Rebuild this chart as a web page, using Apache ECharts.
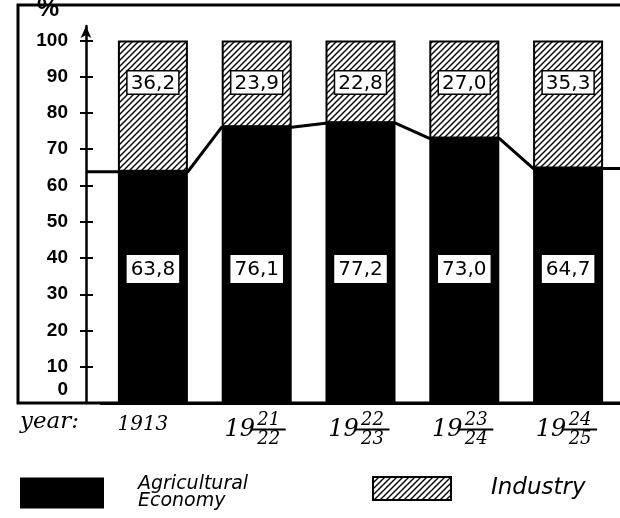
<!DOCTYPE html>
<html>
<head>
<meta charset="utf-8">
<script src="https://cdn.jsdelivr.net/npm/echarts@6/dist/echarts.min.js"></script>
<style>
  html, body { margin: 0; padding: 0; background: #fff; }
  #chart { width: 620px; height: 518px; }
</style>
</head>
<body>
<div id="chart"></div>
<script>
// datos
const years = ['1913', '1921/22', '1922/23', '1923/24', '1924/25'];
const agricultura = [63.8, 76.1, 77.2, 73.0, 64.7];
const industria = [36.2, 23.9, 22.8, 27.0, 35.3];
const yTicks = [0, 10, 20, 30, 40, 50, 60, 70, 80, 90, 100];

// patron de rayado para industria
function hatchPattern() {
  const c = document.createElement('canvas');
  c.width = 6; c.height = 6;
  const ctx = c.getContext('2d');
  ctx.fillStyle = '#fff';
  ctx.fillRect(0, 0, 6, 6);
  ctx.strokeStyle = '#000';
  ctx.lineWidth = 1.4;
  ctx.beginPath();
  ctx.moveTo(0, 6); ctx.lineTo(6, 0);
  ctx.moveTo(-1, 1); ctx.lineTo(1, -1);
  ctx.moveTo(5, 7); ctx.lineTo(7, 5);
  ctx.stroke();
  return c;
}
const hatch = { image: hatchPattern(), repeat: 'repeat' };

// linea sobre la parte superior de las barras negras (desde el eje hasta el borde)
const inicio = -15 / 104;
const lado = (1 - 70 / 104) / 2;
const linea = [[inicio, agricultura[0]]];
agricultura.forEach((v, i) => {
  linea.push([i + lado, v]);
  linea.push([i + 1 - lado, v]);
});
linea.push([years.length, agricultura[agricultura.length - 1]]);

const fmt = v => v.toFixed(1).replace('.', ',');
const fuente = "'DejaVu Sans', sans-serif";
const mano = "'DejaVu Sans', sans-serif";

const chart = echarts.init(document.getElementById('chart'));
chart.setOption({
  animation: false,
  backgroundColor: '#fff',
  grid: [
    { left: 101, top: 26, width: 520, height: 377 },
    { left: 86, top: 26, width: 535, height: 377 }
  ],
  graphic: [
    {
      type: 'rect',
      shape: { x: 18, y: 5, width: 620, height: 398 },
      style: { fill: 'none', stroke: '#000', lineWidth: 3 },
      z: 0
    },
    {
      type: 'text',
      left: 20, top: 411,
      style: { text: 'year:', font: "italic 23px 'DejaVu Serif', serif", fill: '#000' }
    },
    {
      type: 'text',
      left: 37, top: -3,
      style: { text: '%', font: "bold 25px 'Liberation Sans', sans-serif", fill: '#000' }
    }
  ],
  legend: [
    {
      data: ['Agricultural Economy'],
      left: 20, top: 474,
      padding: 0,
      icon: 'rect',
      itemWidth: 82, itemHeight: 29,
      itemStyle: { borderColor: '#000', borderWidth: 2 },
      formatter: n => n.replace(' ', '\n'),
      textStyle: { fontFamily: mano, fontStyle: 'italic', fontSize: 19, color: '#000', padding: [4, 0, 0, 30], lineHeight: 17 }
    },
    {
      data: ['Industry'],
      left: 372, top: 476,
      padding: 0,
      icon: 'rect',
      itemWidth: 78, itemHeight: 23,
      itemStyle: { borderColor: '#000', borderWidth: 2 },
      textStyle: { fontFamily: mano, fontStyle: 'italic', fontSize: 23, color: '#000', padding: [0, 0, 0, 35] }
    }
  ],
  xAxis: [
    {
      type: 'category',
      gridIndex: 0,
      data: years,
      axisLine: { lineStyle: { color: '#000', width: 3 } },
      axisTick: { show: false },
      axisLabel: {
        interval: 0,
        margin: 9,
        color: '#000',
        fontFamily: "'DejaVu Serif', serif",
        fontStyle: 'italic',
        formatter: v => {
          if (v.indexOf('/') < 0) return '{yr|' + v + '}';
          const p = v.split('/');
          return '{p|}{n|' + p[0].slice(2) + '}\n{c|19}{bar|}\n{p|}{n|' + p[1] + '}';
        },
        rich: {
          yr: { fontSize: 20, fontStyle: 'italic', lineHeight: 26, padding: [0, 20, 0, 0] },
          p: { width: 24 },
          n: { fontSize: 18, fontStyle: 'italic', width: 34, align: 'center', lineHeight: 16 },
          c: { fontSize: 24, fontStyle: 'italic', width: 24, lineHeight: 3 },
          bar: { width: 34, height: 2, backgroundColor: '#000', lineHeight: 3 }
        }
      }
    },
    { type: 'value', gridIndex: 1, min: inicio, max: years.length, show: false }
  ],
  yAxis: [
    {
      type: 'value',
      gridIndex: 0,
      min: 0, max: 104, interval: 10,
      offset: 15,
      splitLine: { show: false },
      axisLine: { show: true, onZero: false, symbol: ['none', 'arrow'], symbolSize: [8, 12], lineStyle: { color: '#000', width: 2.5 } },
      axisTick: { show: true, length: 6, customValues: yTicks, lineStyle: { color: '#000', width: 2 } },
      axisLabel: {
        customValues: yTicks,
        margin: 18,
        color: '#000',
        fontSize: 19,
        fontWeight: 'bold',
        fontFamily: "'Liberation Sans', sans-serif",
        formatter: v => v === 0 ? '{z|0}' : String(v),
        rich: {
          z: { fontSize: 19, fontWeight: 'bold', fontFamily: "'Liberation Sans', sans-serif", color: '#000', padding: [0, 0, 27, 0] }
        }
      }
    },
    {
      type: 'value',
      gridIndex: 0,
      min: 0, max: 104, interval: 10,
      offset: 15,
      position: 'left',
      splitLine: { show: false },
      axisLine: { show: false, onZero: false },
      axisLabel: { show: false },
      axisTick: { show: true, inside: true, length: 7, customValues: yTicks, lineStyle: { color: '#000', width: 2 } }
    },
    { type: 'value', gridIndex: 1, min: 0, max: 104, show: false }
  ],
  series: [
    {
      name: 'Agricultural Economy',
      type: 'bar',
      stack: 'total',
      barWidth: 70,
      data: agricultura,
      itemStyle: { color: '#000', borderColor: '#000', borderWidth: 2 },
      label: {
        show: true,
        position: 'insideBottom',
        distance: 120,
        formatter: p => fmt(p.value),
        color: '#000',
        fontSize: 20,
        fontFamily: fuente,
        backgroundColor: '#fff',
        borderColor: '#000',
        borderWidth: 1.5,
        padding: [5, 4, 3, 4]
      }
    },
    {
      name: 'Industry',
      type: 'bar',
      stack: 'total',
      barWidth: 70,
      data: industria,
      itemStyle: { color: hatch, borderColor: '#000', borderWidth: 2 },
      label: {
        show: true,
        position: 'insideTop',
        distance: 31,
        formatter: p => fmt(p.value),
        color: '#000',
        fontSize: 20,
        fontFamily: fuente,
        backgroundColor: '#fff',
        borderColor: '#000',
        borderWidth: 1.5,
        padding: [2, 3, 0, 3]
      }
    },
    {
      name: 'linea',
      type: 'line',
      xAxisIndex: 1,
      yAxisIndex: 2,
      data: linea,
      clip: false,
      symbol: 'none',
      silent: true,
      z: 5,
      lineStyle: { color: '#000', width: 3 }
    }
  ]
});
</script>
</body>
</html>
